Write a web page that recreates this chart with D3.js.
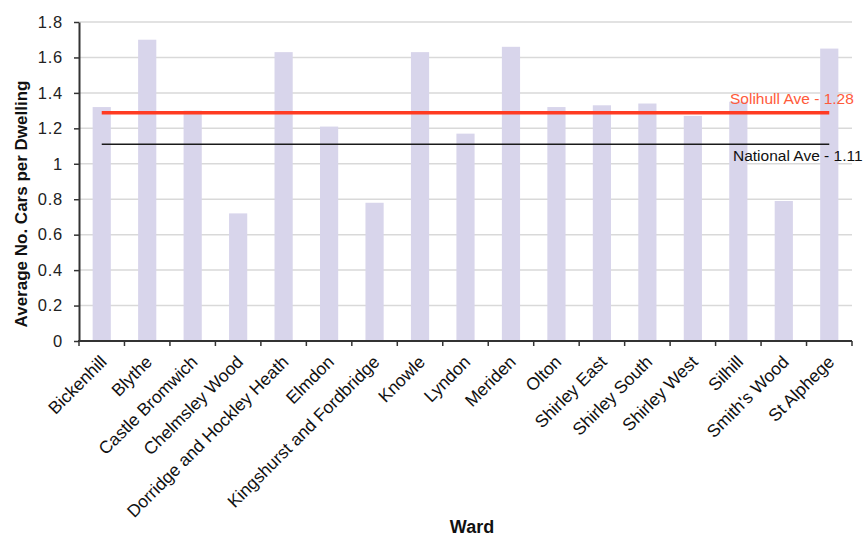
<!DOCTYPE html>
<html>
<head>
<meta charset="utf-8">
<script src="https://cdn.jsdelivr.net/npm/d3@7"></script>
<style>
  html, body { margin: 0; padding: 0; background: #fff; }
  svg { display: block; font-family: "Liberation Sans", Arial, sans-serif; }
</style>
</head>
<body>
<svg id="chart" width="863" height="538"></svg>
<script>
const wards = ["Bickenhill", "Blythe", "Castle Bromwich", "Chelmsley Wood", "Dorridge and Hockley Heath",
  "Elmdon", "Kingshurst and Fordbridge", "Knowle", "Lyndon", "Meriden", "Olton", "Shirley East",
  "Shirley South", "Shirley West", "Silhill", "Smith's Wood", "St Alphege"];
const carsPerDwelling = [1.32, 1.70, 1.30, 0.72, 1.63, 1.21, 0.78, 1.63, 1.17, 1.66, 1.32, 1.33, 1.34, 1.27, 1.35, 0.79, 1.65];
const yTicks = [0, 0.2, 0.4, 0.6, 0.8, 1, 1.2, 1.4, 1.6, 1.8];
const yTickLabels = ["0", "0.2", "0.4", "0.6", "0.8", "1", "1.2", "1.4", "1.6", "1.8"];
const refLabels = ["Solihull Ave - 1.28", "National Ave - 1.11"];
const refValues = [1.28, 1.11];

const svg = d3.select("#chart");
const W = 863, H = 538;
const m = { left: 79, right: 11, top: 22, bottom: 197 };
const x0 = m.left, x1 = W - m.right, yTop = m.top, yBot = H - m.bottom;

const x = d3.scaleBand().domain(wards).range([x0, x1]).paddingInner(0.6).paddingOuter(0.3);
const y = d3.scaleLinear().domain([0, 1.8]).range([yBot, yTop]);

// gridlines
svg.append("g").selectAll("line").data(yTicks.filter(d => d > 0)).join("line")
  .attr("x1", x0).attr("x2", x1)
  .attr("y1", d => y(d)).attr("y2", d => y(d))
  .attr("stroke", "#d9d9d9").attr("stroke-width", 1.5);

// bars
svg.append("g").selectAll("rect").data(wards).join("rect")
  .attr("x", d => x(d))
  .attr("width", x.bandwidth())
  .attr("y", (d, i) => y(carsPerDwelling[i]))
  .attr("height", (d, i) => y(0) - y(carsPerDwelling[i]))
  .attr("fill", "#d8d5eb");

// reference lines
const xs = x(wards[0]) + x.bandwidth() / 2;
const xe = x(wards[wards.length - 1]) + x.bandwidth() / 2;
svg.append("line").attr("x1", xs).attr("x2", xe)
  .attr("y1", y(refValues[1])).attr("y2", y(refValues[1]))
  .attr("stroke", "#1a1a1a").attr("stroke-width", 1.5);
svg.append("line").attr("x1", xs).attr("x2", xe)
  .attr("y1", y(refValues[0]) - 1.5).attr("y2", y(refValues[0]) - 1.5)
  .attr("stroke", "#ff3b22").attr("stroke-width", 3.5);

svg.append("text").attr("x", 730).attr("y", y(refValues[0]) - 10)
  .attr("font-size", 15.5).attr("fill", "#ff5a3a").text(refLabels[0]);
svg.append("text").attr("x", 733).attr("y", y(refValues[1]) + 17)
  .attr("font-size", 15.5).attr("fill", "#111").text(refLabels[1]);

// y axis
const yAxis = d3.axisLeft(y).tickValues(yTicks).tickFormat((d, i) => yTickLabels[i])
  .tickSize(5).tickSizeOuter(0).tickPadding(11);
const gy = svg.append("g").attr("transform", `translate(${x0},0)`).call(yAxis);
gy.select(".domain").attr("stroke", "#333").attr("stroke-width", 2);
gy.selectAll(".tick line").attr("stroke", "#333").attr("stroke-width", 1.5);
gy.selectAll(".tick text").attr("font-size", 16.5).attr("fill", "#222")
  .attr("font-family", "Liberation Sans, Arial, sans-serif").attr("letter-spacing", 0.8);

// x axis: line + ticks at band boundaries
const boundaries = d3.range(wards.length + 1).map(i => x0 + i * (x1 - x0) / wards.length);
const gx = svg.append("g");
gx.append("line").attr("x1", x0 - 1).attr("x2", x1).attr("y1", yBot).attr("y2", yBot)
  .attr("stroke", "#333").attr("stroke-width", 2);
gx.selectAll("line.tk").data(boundaries).join("line").attr("class", "tk")
  .attr("x1", d => d).attr("x2", d => d).attr("y1", yBot).attr("y2", yBot + 5)
  .attr("stroke", "#333").attr("stroke-width", 1.5);
gx.selectAll("text").data(wards).join("text")
  .attr("transform", d => `translate(${x(d) + x.bandwidth() / 2 + 6},${yBot + 22}) rotate(-45)`)
  .attr("text-anchor", "end")
  .attr("font-size", 17.5).attr("fill", "#111")
  .text(d => d);

// axis titles
svg.append("text").attr("transform", `translate(27,204) rotate(-90)`)
  .attr("text-anchor", "middle").attr("font-size", 17).attr("font-weight", "bold").attr("fill", "#111")
  .text("Average No. Cars per Dwelling");
svg.append("text").attr("x", 472).attr("y", 533)
  .attr("text-anchor", "middle").attr("font-size", 18).attr("font-weight", "bold").attr("fill", "#111")
  .text("Ward");
</script>
</body>
</html>
